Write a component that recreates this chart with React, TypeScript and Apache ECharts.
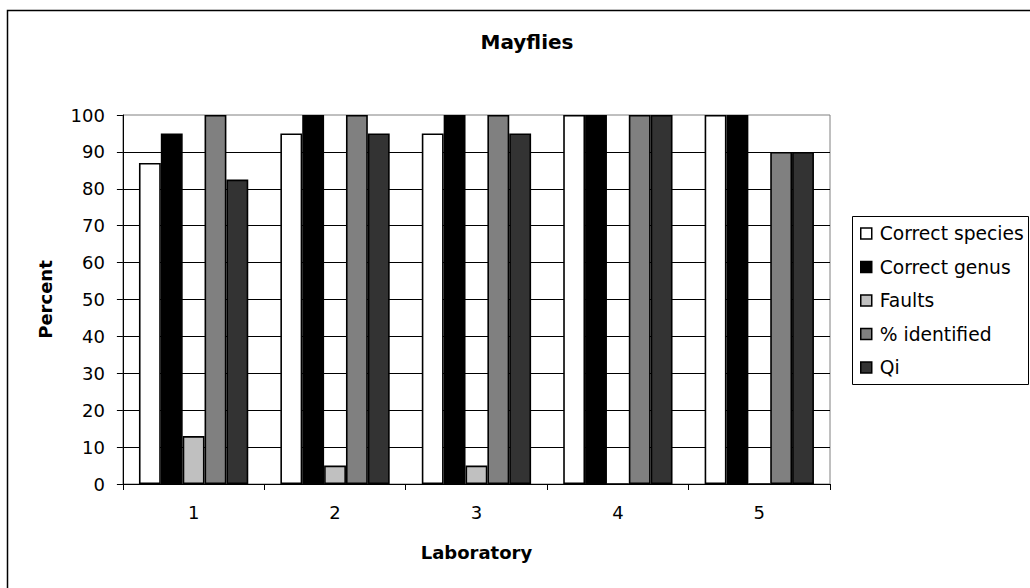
import React, { useEffect, useRef } from "react";
import * as echarts from "echarts";

const categories = ["1", "2", "3", "4", "5"];
const correctSpecies = [87, 95, 95, 100, 100];
const correctGenus = [95, 100, 100, 100, 100];
const faults = [13, 5, 5, 0, 0];
const identified = [100, 100, 100, 100, 90];
const qi = [82.5, 95, 95, 100, 90];
const yTicks = { min: 0, max: 100, interval: 10 };

const FONT = "DejaVu Sans";

export default function App() {
  const ref = useRef<HTMLDivElement>(null);
  useEffect(() => {
    if (!ref.current) return;
    const chart = echarts.init(ref.current, null, { renderer: "svg" });
    const mk = (name: string, data: number[], color: string) => ({
      name,
      type: "bar",
      data,
      barGap: "0%",
      barCategoryGap: "22.7%",
      itemStyle: { color, borderColor: "#000", borderWidth: 1.6 },
    });
    chart.setOption({
      animation: false,
      backgroundColor: "#fff",
      textStyle: { fontFamily: FONT },
      title: {
        text: "Mayflies",
        left: 522,
        top: 27,
        textAlign: "center",
        textStyle: { fontFamily: FONT, fontSize: 20, fontWeight: "bold", color: "#000" },
      },
      grid: {
        left: 122.9,
        right: 200,
        top: 115,
        bottom: 104,
        show: true,
        borderColor: "#808080",
        borderWidth: 1,
        backgroundColor: "transparent",
      },
      legend: {
        orient: "vertical",
        left: 860,
        top: 224,
        padding: 0,
        itemWidth: 11,
        itemHeight: 11,
        itemGap: 14.5,
        icon: "rect",
        itemStyle: { borderColor: "#000", borderWidth: 1.5 },
        textStyle: { fontFamily: FONT, fontSize: 18.7, color: "#000", padding: [0, 0, 0, 3] },
        data: ["Correct species", "Correct genus", "Faults", "% identified", "Qi"],
      },
      xAxis: {
        type: "category",
        data: categories,
        name: "Laboratory",
        nameLocation: "middle",
        nameGap: 59,
        nameTextStyle: { fontFamily: FONT, fontSize: 18, fontWeight: "bold", color: "#000" },
        axisLine: { lineStyle: { color: "#000", width: 1 } },
        axisTick: { show: true, length: 6, lineStyle: { color: "#000" } },
        axisLabel: { fontFamily: FONT, fontSize: 18, color: "#000", margin: 19 },
      },
      yAxis: {
        type: "value",
        min: yTicks.min,
        max: yTicks.max,
        interval: yTicks.interval,
        name: "Percent",
        nameLocation: "middle",
        nameGap: 68,
        nameTextStyle: { fontFamily: FONT, fontSize: 18, fontWeight: "bold", color: "#000" },
        axisLine: { show: true, lineStyle: { color: "#000", width: 1 } },
        axisTick: { show: true, length: 6, lineStyle: { color: "#000" } },
        axisLabel: { fontFamily: FONT, fontSize: 18, color: "#000", margin: 18 },
        splitLine: { show: true, showMaxLine: false, lineStyle: { color: "#000", width: 1 } },
      },
      series: [
        mk("Correct species", correctSpecies, "#ffffff"),
        mk("Correct genus", correctGenus, "#000000"),
        mk("Faults", faults, "#c0c0c0"),
        mk("% identified", identified, "#808080"),
        mk("Qi", qi, "#333333"),
      ],
      graphic: [
        {
          type: "rect",
          shape: { x: 7.5, y: 10.5, width: 1100, height: 700 },
          style: { fill: "none", stroke: "#000", lineWidth: 1.5 },
          silent: true,
        },
        {
          type: "rect",
          shape: { x: 852.5, y: 216.5, width: 176, height: 168 },
          style: { fill: "none", stroke: "#000", lineWidth: 1 },
          silent: true,
        },
      ],
    });
    return () => chart.dispose();
  }, []);
  return (
    <div
      ref={ref}
      style={{ position: "absolute", left: 0, top: 0, width: 1030, height: 588 }}
    />
  );
}
